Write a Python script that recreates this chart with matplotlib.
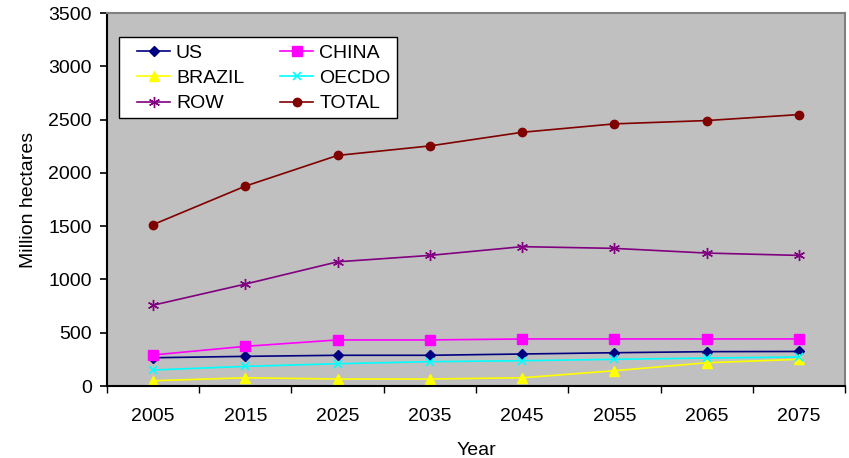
import matplotlib
matplotlib.use("Agg")
import matplotlib.pyplot as plt
from matplotlib.patches import Rectangle

# Superficie proyectada por region (millones de hectareas)
years = ['2005', '2015', '2025', '2035', '2045', '2055', '2065', '2075']
us = [266, 279, 289, 289, 301, 313, 323, 325]
china = [292, 373, 433, 433, 442, 442, 442, 442]
brazil = [50, 78, 66, 66, 78, 144, 219, 251]
oecdo = [151, 185, 210, 229, 238, 251, 263, 273]
row = [759, 957, 1166, 1226, 1308, 1292, 1248, 1226]
total = [1515, 1876, 2164, 2253, 2381, 2460, 2491, 2547]

plt.rcParams['font.family'] = ['Liberation Sans', 'DejaVu Sans']

fig = plt.figure(figsize=(8.49, 4.58), dpi=100)
ax = fig.add_axes([0.126, 0.157, 0.8693, 0.8146])
ax.set_facecolor('#C0C0C0')

x = list(range(len(years)))
lw = 1.2
l_us, = ax.plot(x, us, color='#000080', marker='D', markersize=5, lw=lw, label='US')
l_china, = ax.plot(x, china, color='#FF00FF', marker='s', markersize=6.5, lw=lw, label='CHINA')
l_brazil, = ax.plot(x, brazil, color='#FFFF00', marker='^', markersize=7, lw=lw, label='BRAZIL')
l_oecdo, = ax.plot(x, oecdo, color='#00FFFF', marker='x', markersize=6, mew=1.2, lw=lw, label='OECDO')
l_row, = ax.plot(x, row, color='#800080', marker=(6, 2, 0), markersize=8, mew=1.0, lw=lw, label='ROW')
l_total, = ax.plot(x, total, color='#800000', marker='o', markersize=6, lw=lw, label='TOTAL')

ax.set_xlim(-0.5, len(years) - 0.5)
ax.set_ylim(0, 3500)
ax.set_yticks(range(0, 3501, 500))
ax.tick_params(axis='y', labelsize=14, length=5, width=1.2, direction='out', pad=6)

# marcas en los limites de categoria, etiquetas en el centro
ax.set_xticks([i - 0.5 for i in range(len(years) + 1)])
ax.set_xticklabels([])
ax.set_xticks(x, minor=True)
ax.set_xticklabels(years, minor=True)
ax.tick_params(axis='x', which='major', length=5, width=1, direction='out')
ax.tick_params(axis='x', which='minor', length=0, labelsize=14, pad=16)

for s in ['top', 'right']:
    ax.spines[s].set_color('#808080')
    ax.spines[s].set_linewidth(1.5)
for s in ['left', 'bottom']:
    ax.spines[s].set_color('black')
    ax.spines[s].set_linewidth(1.5)

ax.set_ylabel('Million hectares', fontsize=14, labelpad=8)
ax.set_xlabel('Year', fontsize=14, labelpad=12)

# caja blanca de la leyenda, con margen a la izquierda
caja = Rectangle((0.0163, 0.7185), 0.3767, 0.2172, transform=ax.transAxes,
                 facecolor='white', edgecolor='black', lw=1.0, zorder=4.5)
ax.add_patch(caja)

handles = [l_us, l_brazil, l_row, l_china, l_oecdo, l_total]
leg = ax.legend(handles=handles, ncol=2, loc='upper left',
                bbox_to_anchor=(0.0407, 0.916), fontsize=14, frameon=False,
                handlelength=1.7, columnspacing=1.86, labelspacing=0.39,
                borderpad=0, handletextpad=0.3, borderaxespad=0)
leg.set_zorder(6)

fig.savefig('out.png', dpi=100)
